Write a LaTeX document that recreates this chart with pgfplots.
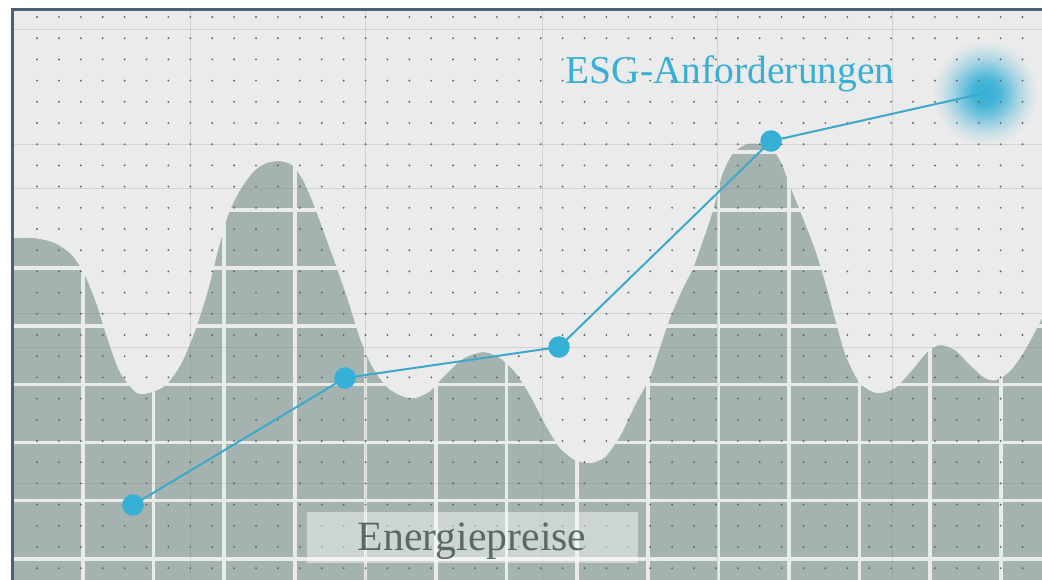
\documentclass[border=0pt]{standalone}
\usepackage{fontspec}
\setmainfont{Liberation Serif}
\usepackage{pgfplots}
\usepackage{pgfplotstable}
\pgfplotsset{compat=1.18}
\usetikzlibrary{fadings}

\definecolor{bgcol}{HTML}{EBEBEB}
\definecolor{areacol}{HTML}{A5B3B0}
\definecolor{gridwhite}{HTML}{E8EBEA}
\definecolor{dotcol}{HTML}{5E6463}
\definecolor{bordercol}{HTML}{4B6276}
\definecolor{esg}{HTML}{36B0D6}
\definecolor{esgline}{HTML}{3CA9CB}
\definecolor{energytext}{HTML}{5A6966}

\pgfdeclareradialshading{glowmask}{\pgfpointorigin}{%
  color(0bp)=(white); color(6bp)=(white!92!black); color(11bp)=(white!65!black);
  color(16bp)=(white!35!black); color(21bp)=(white!12!black);
  color(25bp)=(black); color(50bp)=(black)}
\pgfdeclarefading{glowfade}{\pgfuseshading{glowmask}}

% Energiepreise: outline of the area (pixel coordinates, y downwards)
\pgfplotstableread{
x y
14 238
35 238
55 243
72 255
85 275
97 305
108 340
120 372
137 393
152 392
167 384
182 362
196 328
208 290
218 250
228 215
240 190
253 172
266 163
280 161
292 165
302 178
312 200
324 232
337 268
348 300
360 338
372 366
387 387
402 396
415 398
430 391
446 374
464 358
484 352
500 358
515 372
530 395
545 424
560 448
575 460
590 463
605 457
620 436
635 405
650 377
660 347
670 318
682 290
693 268
703 240
713 210
722 175
733 153
747 144
760 144
772 149
781 162
791 188
803 218
816 252
826 285
836 322
846 356
860 383
877 393
895 388
912 370
927 352
940 345
955 350
970 365
985 378
996 380
1010 371
1025 350
1042 318
}\energy

% ESG-Anforderungen
\pgfplotstableread{
x y
133 505
345 378
559 347
771 141
985 93
}\esgdata

\begin{document}
\begin{tikzpicture}
\begin{axis}[
    scale only axis,
    width=416.8pt, height=232pt,
    xmin=0, xmax=1042, ymin=0, ymax=580,
    y dir=reverse,
    axis lines=none, ticks=none,
    clip=true,
]
% paper
\pgfplotsextra{
  \fill[white] (axis cs:0,0) rectangle (axis cs:1042,580);
  \fill[bgcol] (axis cs:12,9) rectangle (axis cs:1042,580);
}
% energy area
\addplot[draw=none, fill=areacol, smooth, tension=0.45] table {\energy}
    -- (axis cs:1042,580) -- (axis cs:14,580) -- cycle;
% white grid inside the area
\pgfplotsextra{
  \foreach \k in {0,...,13} {
    \draw[gridwhite, line width=1.5pt] (axis cs:{83+70.6*\k},10) -- (axis cs:{83+70.6*\k},580);
  }
  \foreach \k in {0,...,7} {
    \draw[gridwhite, line width=1.5pt] (axis cs:14,{152+58.1*\k}) -- (axis cs:1042,{152+58.1*\k});
  }
}
% paper above the area
\addplot[draw=none, fill=bgcol, smooth, tension=0.45] table {\energy}
    -- (axis cs:1042,11) -- (axis cs:14,11) -- cycle;
% glow at the last ESG point
\addplot[draw=none, mark=none] table[x=x, y=y] {\esgdata}
    node[pos=1, circle, minimum size=42pt, inner sep=0pt, draw=none,
         fill=esg, path fading=glowfade] {};
% faint paper grid and dots
\pgfplotsextra{
  \foreach \xx in {190,365,542,717,892} {
    \draw[black!50, opacity=0.22, line width=0.3pt] (axis cs:\xx,11) -- (axis cs:\xx,580);
  }
  \foreach \yy in {29,144,188,313,347,483} {
    \draw[black!50, opacity=0.22, line width=0.3pt] (axis cs:14,\yy) -- (axis cs:1042,\yy);
  }
  \foreach \i in {0,...,46} {
    \foreach \j in {0,...,26} {
      \fill[dotcol] (axis cs:{37+21.9*\i},{17+21.2*\j}) circle (0.42pt);
    }
  }
  \draw[bordercol, line width=1.2pt] (axis cs:12.5,580) -- (axis cs:12.5,9.5) -- (axis cs:1042,9.5);
}
% ESG line and markers
\addplot[esgline, line width=0.8pt, mark=none] table {\esgdata};
\addplot[only marks, mark=*, mark size=4.1pt, draw=esg, fill=esg,
    restrict x to domain=0:900] table {\esgdata};
% labels
\pgfplotsextra{
  \node[anchor=base west, inner sep=0pt, text=esg, font=\fontsize{15.8}{19}\selectfont]
    at (axis cs:565,83) {ESG-Anforderungen};
  \fill[white, opacity=0.45] (axis cs:307,512) rectangle (axis cs:638,563);
  \node[anchor=base, inner sep=0pt, text=energytext, font=\fontsize{16.7}{20}\selectfont]
    at (axis cs:472,550) {Energiepreise};
}
\end{axis}
\end{tikzpicture}
\end{document}
